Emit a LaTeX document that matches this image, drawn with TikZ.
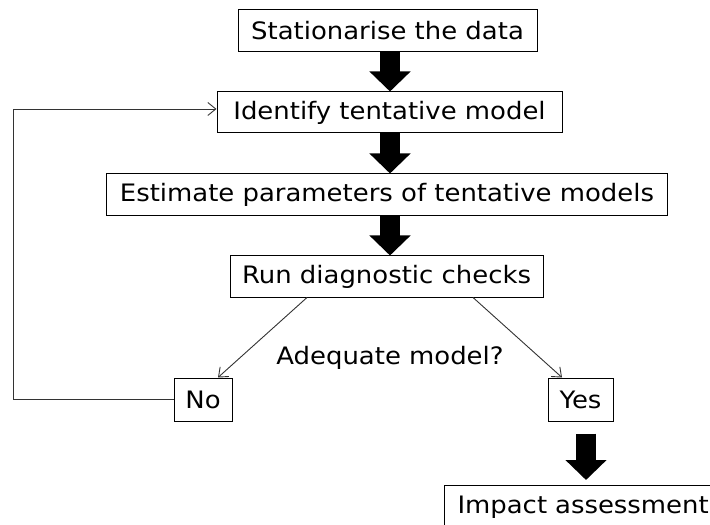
\documentclass[tikz,border=0pt]{standalone}
\usepackage{fontspec}
\setmainfont{DejaVu Sans}[FakeStretch=1.08]
\usetikzlibrary{arrows.meta}
\begin{document}
\begin{tikzpicture}[x=1bp,y=-1bp,
  txt/.style={font=\fontsize{24bp}{28bp}\selectfont},
  stepbox/.style={txt,draw=black,line width=1bp,inner sep=0pt},
  bigarrow/.style={line width=20bp,-{Triangle[width=40bp,length=20bp]}},
  thinarrow/.style={draw=black!80,line width=0.9bp,-{Straight Barb[length=8bp,width=13bp]}}]
\useasboundingbox (0,0) rectangle (710,525);
\node[stepbox,minimum width=299bp,minimum height=42bp] (s1) at (387.5,31) {Stationarise the data};
\node[stepbox,minimum width=345bp,minimum height=41bp] (s2) at (389.5,112.5) {Identify tentative model};
\node[stepbox,minimum width=560bp,minimum height=42bp] (s3) at (387,195) {Estimate parameters of tentative models};
\node[stepbox,minimum width=313bp,minimum height=41bp] (s4) at (386.5,276.5) {Run diagnostic checks};
\node[stepbox,minimum width=58bp,minimum height=43bp] (no) at (203,399.5) {No};
\node[stepbox,minimum width=65bp,minimum height=43bp] (yes) at (580.5,399.5) {Yes};
\node[stepbox,minimum width=290bp,minimum height=44bp,anchor=north west,text width=270bp,align=left,inner xsep=13bp] (imp) at (444,485) {Impact assessment};
\node[txt] (q) at (390,358) {Adequate model?};
\coordinate (ax) at (390,0);
\coordinate (ay) at (586,0);
\coordinate (l1) at (307,0);
\coordinate (l2) at (218,0);
\coordinate (r1) at (473,0);
\coordinate (r2) at (562,0);
\coordinate (fb) at (13,0);
\draw[bigarrow] (s1.south -| ax) -- (s2.north -| ax);
\draw[bigarrow] (s2.south -| ax) -- (s3.north -| ax);
\draw[bigarrow] (s3.south -| ax) -- (s4.north -| ax);
\draw[bigarrow,shorten <=12bp,shorten >=5bp] (yes.south -| ay) -- (imp.north -| ay);
\draw[thinarrow] (s4.south -| l1) -- (no.north -| l2);
\draw[thinarrow] (s4.south -| r1) -- (yes.north -| r2);
\draw[thinarrow] (no.west) -- (no.west -| fb) |- ([yshift=3.5bp]s2.west);
\end{tikzpicture}
\end{document}
